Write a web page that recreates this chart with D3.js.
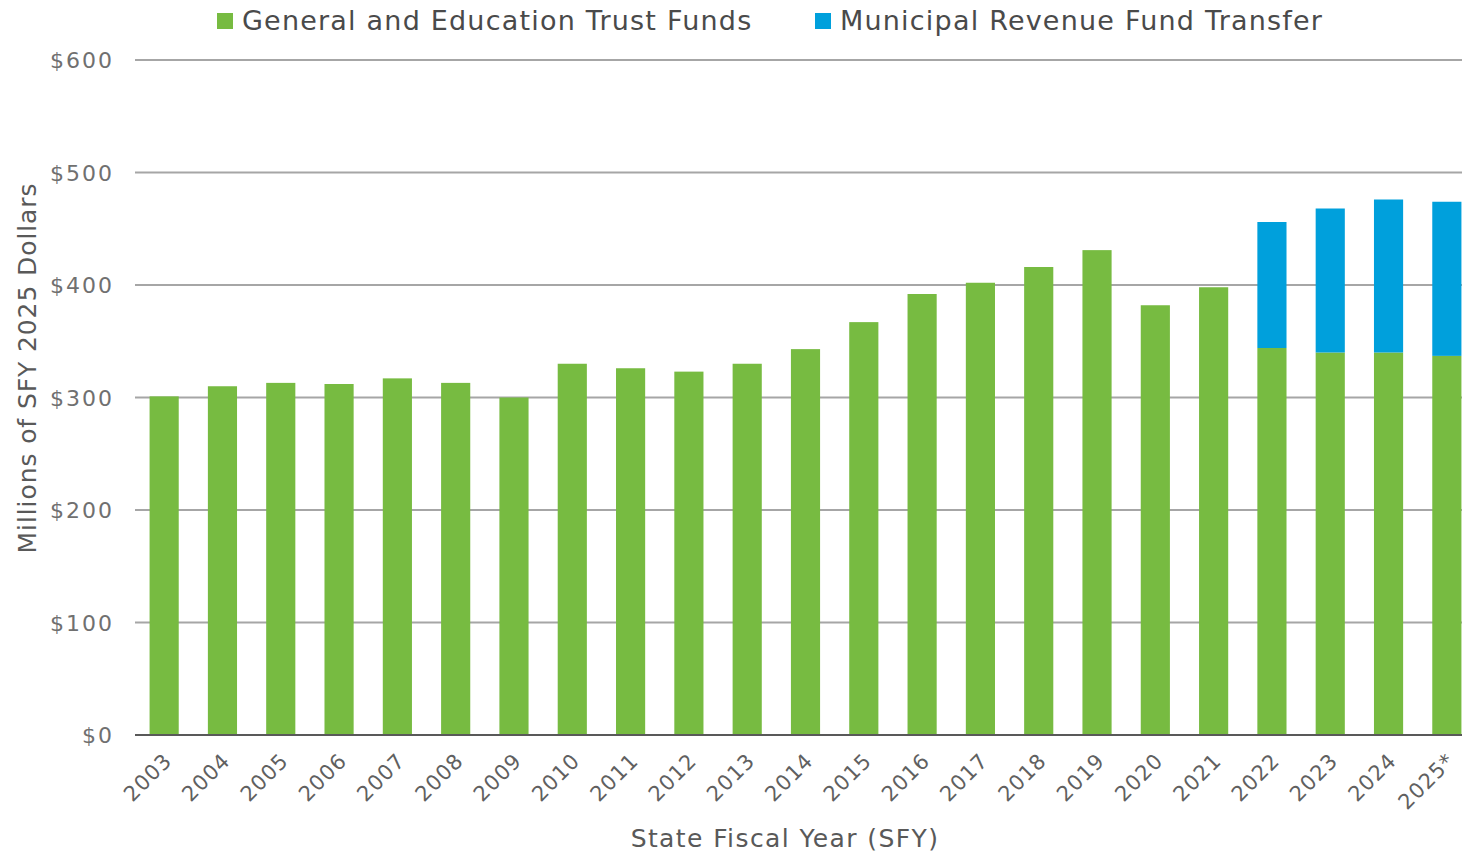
<!DOCTYPE html>
<html>
<head>
<meta charset="utf-8">
<script src="https://cdn.jsdelivr.net/npm/d3@7"></script>
<style>
  body { margin: 0; background: #fff; }
  text { font-family: "DejaVu Sans", "Open Sans", sans-serif; fill: #595959; }
</style>
</head>
<body>
<script>
// chart size
var w = 1462;
var h = 854;

var years = ["2003","2004","2005","2006","2007","2008","2009","2010","2011","2012","2013","2014",
             "2015","2016","2017","2018","2019","2020","2021","2022","2023","2024","2025*"];
var generalFunds = [301, 310, 313, 312, 317, 313, 300, 330, 326, 323, 330, 343,
                    367, 392, 402, 416, 431, 382, 398, 344, 340, 340, 337];
var municipalTransfer = [0, 0, 0, 0, 0, 0, 0, 0, 0, 0, 0, 0,
                         0, 0, 0, 0, 0, 0, 0, 112, 128, 136, 137];
var yTicks = [0, 100, 200, 300, 400, 500, 600];
var seriesNames = ["General and Education Trust Funds", "Municipal Revenue Fund Transfer"];
var colors = ["#77bb41", "#00a0dc"];

var svg = d3.select("body")
            .append("svg")
            .attr("width", w)
            .attr("height", h);

var x = d3.scaleBand()
          .domain(years)
          .range([135, 1476])
          .paddingInner(0.5)
          .paddingOuter(0.25);

var y = d3.scaleLinear()
          .domain([0, 600])
          .range([735, 60]);

// gridlines
svg.selectAll("line.grid")
   .data(yTicks.filter(function(d) { return d > 0; }))
   .enter()
   .append("line")
   .attr("class", "grid")
   .attr("x1", 135)
   .attr("x2", 1462)
   .attr("y1", function(d) { return y(d); })
   .attr("y2", function(d) { return y(d); })
   .attr("stroke", "#a6a6a6")
   .attr("stroke-width", 2);

// stacked bars
var rows = years.map(function(yr, i) {
    return { year: yr, general: generalFunds[i], municipal: municipalTransfer[i] };
});
var stack = d3.stack().keys(["general", "municipal"]);
var layers = stack(rows);

svg.selectAll("g.layer")
   .data(layers)
   .enter()
   .append("g")
   .attr("fill", function(d, i) { return colors[i]; })
   .selectAll("rect")
   .data(function(d) { return d.filter(function(p) { return p[1] > p[0]; }); })
   .enter()
   .append("rect")
   .attr("x", function(d) { return x(d.data.year); })
   .attr("y", function(d) { return y(d[1]); })
   .attr("width", x.bandwidth())
   .attr("height", function(d) { return y(d[0]) - y(d[1]); });

// zero line
svg.append("line")
   .attr("x1", 135)
   .attr("x2", 1462)
   .attr("y1", y(0))
   .attr("y2", y(0))
   .attr("stroke", "#595959")
   .attr("stroke-width", 2);

// y axis labels
svg.selectAll("text.ytick")
   .data(yTicks)
   .enter()
   .append("text")
   .attr("class", "ytick")
   .attr("x", 114)
   .attr("y", function(d) { return y(d) + 8; })
   .attr("text-anchor", "end")
   .attr("font-size", "22px")
   .attr("letter-spacing", "2px")
   .style("fill", "#707070")
   .text(function(d) { return "$" + d; });

// x axis labels
svg.selectAll("text.xtick")
   .data(years)
   .enter()
   .append("text")
   .attr("class", "xtick")
   .attr("text-anchor", "end")
   .attr("font-size", "21px")
   .attr("letter-spacing", "1px")
   .style("fill", "#606060")
   .attr("transform", function(d) {
       return "translate(" + (x(d) + x.bandwidth() / 2 + 9) + ",762) rotate(-45)";
   })
   .text(function(d) { return d; });

// axis titles
svg.append("text")
   .attr("transform", "translate(36,368) rotate(-90)")
   .attr("text-anchor", "middle")
   .attr("font-size", "25px")
   .attr("letter-spacing", "0.9px")
   .text("Millions of SFY 2025 Dollars");

svg.append("text")
   .attr("x", 785)
   .attr("y", 847)
   .attr("text-anchor", "middle")
   .attr("font-size", "25px")
   .attr("letter-spacing", "1.4px")
   .text("State Fiscal Year (SFY)");

// legend
var legendX = [217, 815];
var legend = svg.selectAll("g.legend")
   .data(seriesNames)
   .enter()
   .append("g")
   .attr("transform", function(d, i) { return "translate(" + legendX[i] + ",0)"; });

legend.append("rect")
   .attr("x", 0)
   .attr("y", 13)
   .attr("width", 16)
   .attr("height", 16)
   .attr("fill", function(d, i) { return colors[i]; });

legend.append("text")
   .attr("x", 25)
   .attr("y", 30)
   .attr("font-size", "27px")
   .attr("letter-spacing", "1.2px")
   .style("fill", "#4a4a4a")
   .text(function(d) { return d; });
</script>
</body>
</html>
